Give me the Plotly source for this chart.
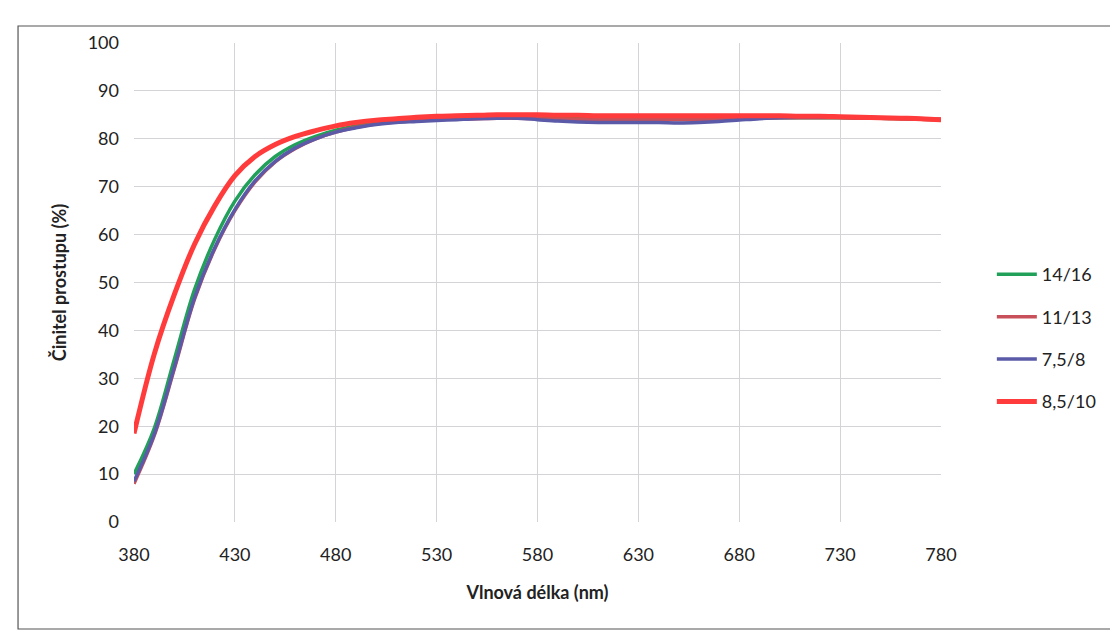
import plotly.graph_objects as go

wavelength = list(range(380, 790, 10))

s_14_16 = [10.0, 19.5, 34.0, 48.5, 59.0, 67.0, 72.5, 76.3, 78.8, 80.5,
           81.8, 82.7, 83.3, 83.7, 84.0, 84.2, 84.3, 84.4, 84.5, 84.5,
           84.4, 84.3, 84.2, 84.2, 84.2, 84.2, 84.2, 84.2, 84.2, 84.2,
           84.3, 84.3, 84.4, 84.4, 84.4, 84.4, 84.3, 84.3, 84.2, 84.1, 84.0]
s_11_13 = [8.0, 18.0, 32.0, 46.5, 57.0, 65.0, 71.0, 75.2, 78.0, 80.0,
           81.4, 82.4, 83.1, 83.5, 83.8, 84.0, 84.1, 84.2, 84.3, 84.3,
           84.2, 84.1, 84.0, 84.0, 84.0, 84.0, 84.0, 84.0, 84.0, 84.1,
           84.2, 84.3, 84.4, 84.4, 84.4, 84.4, 84.3, 84.3, 84.2, 84.1, 84.0]
s_7_5_8 = [8.5, 18.3, 32.3, 46.8, 57.2, 65.2, 71.2, 75.3, 78.1, 80.0,
           81.4, 82.3, 83.0, 83.4, 83.6, 83.8, 84.0, 84.2, 84.3, 84.3,
           84.0, 83.7, 83.5, 83.4, 83.4, 83.4, 83.4, 83.3, 83.4, 83.6,
           83.9, 84.2, 84.4, 84.5, 84.5, 84.5, 84.5, 84.4, 84.3, 84.2, 84.1]
s_8_5_10 = [18.5, 35.0, 47.5, 58.0, 66.0, 72.3, 76.3, 78.8, 80.5, 81.7,
            82.7, 83.4, 83.9, 84.2, 84.5, 84.7, 84.8, 84.9, 85.0, 85.0,
            85.0, 84.9, 84.9, 84.8, 84.8, 84.8, 84.8, 84.8, 84.8, 84.8,
            84.8, 84.8, 84.8, 84.7, 84.7, 84.6, 84.5, 84.4, 84.3, 84.2, 84.0]

names = ["14/16", "11/13", "7,5/8", "8,5/10"]
series = [s_14_16, s_11_13, s_7_5_8, s_8_5_10]
colors = ["#21a05a", "#c8505a", "#5a5aa8", "#ff3b3b"]
widths = [3.5, 3.5, 3.5, 5]

x_ticks = list(range(380, 781, 50))
y_ticks = list(range(0, 101, 10))

fig = go.Figure()
for n, s, c, w in zip(names, series, colors, widths):
    fig.add_trace(go.Scatter(x=wavelength, y=s, name=n, mode="lines",
                             legendgroup=n,
                             line=dict(color=c, width=w, shape="spline")))

font_family = "Lato, 'Open Sans', sans-serif"
fig.update_layout(
    width=1118, height=639,
    paper_bgcolor="white", plot_bgcolor="white",
    margin=dict(l=126, r=185, t=35, b=125),
    font=dict(family=font_family, size=18, color="#222222"),
    showlegend=True,
    legend=dict(x=1.063, y=0.384, xanchor="left", yanchor="middle",
                font=dict(size=18), itemwidth=40, tracegroupgap=16,
                bgcolor="rgba(0,0,0,0)"),
    xaxis=dict(range=[380, 780], tickvals=x_ticks, showgrid=True,
               gridcolor="#d4d4d8", gridwidth=1, zeroline=False,
               showline=False, ticks="", ticklen=0,
               ticklabelstandoff=20,
               tickfont=dict(size=18),
               title=dict(text="<b>Vlnová délka (nm)</b>",
                          font=dict(size=18), standoff=22)),
    yaxis=dict(range=[0, 100], tickvals=y_ticks, showgrid=True,
               gridcolor="#d4d4d8", gridwidth=1, zeroline=False,
               showline=False, ticks="", ticklen=0,
               ticklabelstandoff=14,
               tickfont=dict(size=18),
               title=dict(text="<b>Činitel prostupu (%)</b>",
                          font=dict(size=18), standoff=16)),
    shapes=[dict(type="rect", xref="paper", yref="paper",
                 x0=-0.1437, x1=1.22, y0=-0.2234, y1=1.0355,
                 line=dict(color="#555555", width=1.2),
                 fillcolor="rgba(0,0,0,0)", layer="below")],
)

fig.write_html("out.html")
